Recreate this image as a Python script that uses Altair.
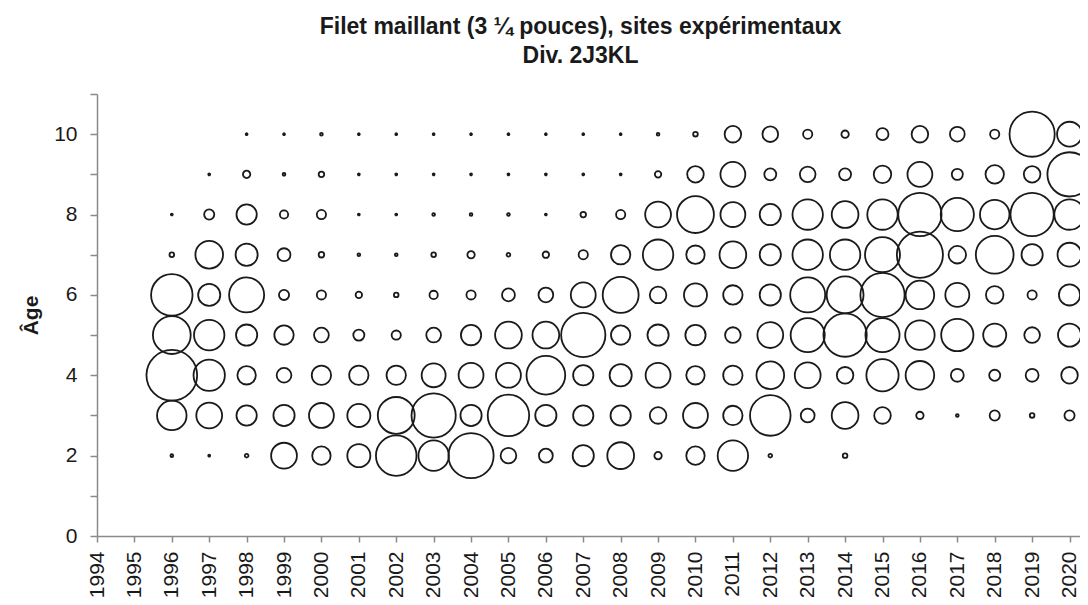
import altair as alt
import pandas as pd

years = list(range(1996, 2021))
ages = [10, 9, 8, 7, 6, 5, 4, 3, 2]

# relative abundance index (bubble area) per age, years 1996..2020
age10 = [None, None, 0.04, 0.04, 0.09, 0.04, 0.04, 0.04, 0.04, 0.04, 0.04, 0.04, 0.04,
         0.09, 0.25, 3.24, 2.89, 1.0, 0.64, 1.69, 3.24, 2.56, 1.0, 24.01, 7.29]
age9 = [None, 0.04, 0.64, 0.09, 0.36, 0.04, 0.04, 0.04, 0.04, 0.04, 0.04, 0.04, 0.04,
        0.49, 3.24, 7.29, 1.69, 2.89, 1.69, 3.61, 7.29, 1.44, 4.0, 3.24, 23.04]
age8 = [0.04, 1.21, 4.84, 0.81, 1.0, 0.04, 0.04, 0.09, 0.09, 0.09, 0.04, 0.36, 1.0,
        7.84, 16.0, 7.29, 5.29, 10.89, 8.41, 10.89, 22.09, 12.96, 10.24, 22.09, 10.89]
age7 = [0.25, 9.0, 5.76, 1.96, 0.36, 0.09, 0.09, 0.25, 0.64, 0.16, 0.49, 1.0, 4.41,
        10.89, 4.0, 8.41, 5.29, 10.89, 10.89, 14.44, 25.0, 3.61, 16.81, 5.29, 6.76]
age6 = [20.25, 5.76, 14.44, 1.21, 1.0, 0.49, 0.25, 0.81, 1.0, 1.96, 2.56, 7.29, 15.21,
        3.24, 6.25, 4.41, 5.29, 14.44, 16.0, 23.04, 9.61, 6.76, 3.61, 1.0, 5.29]
age5 = [16.81, 10.89, 5.29, 4.41, 2.56, 1.44, 1.0, 2.56, 4.84, 8.41, 8.41, 23.04, 4.41,
        5.29, 4.84, 2.89, 7.84, 13.69, 22.09, 13.69, 10.24, 12.25, 6.25, 2.89, 6.25]
age4 = [30.25, 11.56, 4.0, 2.56, 4.41, 4.41, 4.41, 6.76, 7.29, 7.29, 17.64, 4.84, 5.76,
        7.29, 4.0, 4.41, 9.0, 7.84, 3.24, 12.25, 9.61, 1.96, 1.44, 1.96, 3.24]
age3 = [10.24, 7.84, 4.84, 5.29, 7.29, 6.25, 16.0, 23.04, 5.29, 20.25, 5.29, 4.84, 4.84,
        3.24, 7.29, 4.41, 19.36, 2.25, 8.41, 3.24, 0.64, 0.09, 1.21, 0.25, 1.21]
age2 = [0.09, 0.04, 0.16, 7.84, 4.0, 6.25, 19.36, 10.89, 24.01, 2.89, 2.25, 5.29, 8.41,
        0.64, 4.0, 10.89, 0.16, None, 0.25, None, None, None, None, None, None]

series = [age10, age9, age8, age7, age6, age5, age4, age3, age2]

x_ticks = list(range(1994, 2021))
y_ticks = list(range(0, 12))

rows = []
for a, vals in zip(ages, series):
    for yr, v in zip(years, vals):
        if v is not None:
            rows.append({"year": yr, "age": a, "value": v})
df = pd.DataFrame(rows)

FONT = "Liberation Sans"
AXIS_COL = "#8a8a8a"
TXT = "#1a1a1a"

chart = alt.Chart(df).mark_point(
    shape="circle", filled=False, stroke="#1a1a1a", strokeWidth=1.8, opacity=1
).encode(
    x=alt.X("year:Q",
            scale=alt.Scale(domain=[1994, 2020.28], nice=False, zero=False),
            axis=alt.Axis(values=x_ticks, format="d", labelAngle=270, title=None,
                          grid=False, domainColor=AXIS_COL, domainWidth=1.5,
                          tickColor=AXIS_COL, tickWidth=1.5, tickSize=6,
                          labelPadding=9, labelFont=FONT, labelFontSize=21,
                          labelColor=TXT, labelOverlap=False)),
    y=alt.Y("age:Q",
            scale=alt.Scale(domain=[0, 11], nice=False, zero=True),
            axis=alt.Axis(values=y_ticks,
                          labelExpr="datum.value % 2 == 0 ? datum.label : ''",
                          title="Âge", titleFont=FONT, titleFontSize=21,
                          titleFontWeight="bold", titleColor=TXT, titlePadding=12,
                          grid=False, domainColor=AXIS_COL, domainWidth=1.5,
                          tickColor=AXIS_COL, tickWidth=1.5, tickSize=7,
                          labelPadding=13, labelFont=FONT, labelFontSize=21,
                          labelColor=TXT, labelOverlap=False)),
    size=alt.Size("value:Q", scale=alt.Scale(domain=[0, 30.25], range=[0, 2571]),
                  legend=None),
).properties(
    width=983,
    height=442,
    padding={"left": 89, "top": 86, "right": 0, "bottom": 61},
    autosize=alt.AutoSizeParams(type="none"),
    title=alt.TitleParams(
        text=["Filet maillant (3 ¼ pouces), sites expérimentaux", "Div. 2J3KL"],
        font=FONT, fontSize=23, fontWeight="bold", color=TXT,
        anchor="middle", dx=-8, offset=15, lineHeight=29,
    ),
).configure_view(stroke=None)

chart.save("out.html", embed_options={"renderer": "svg", "actions": False})
